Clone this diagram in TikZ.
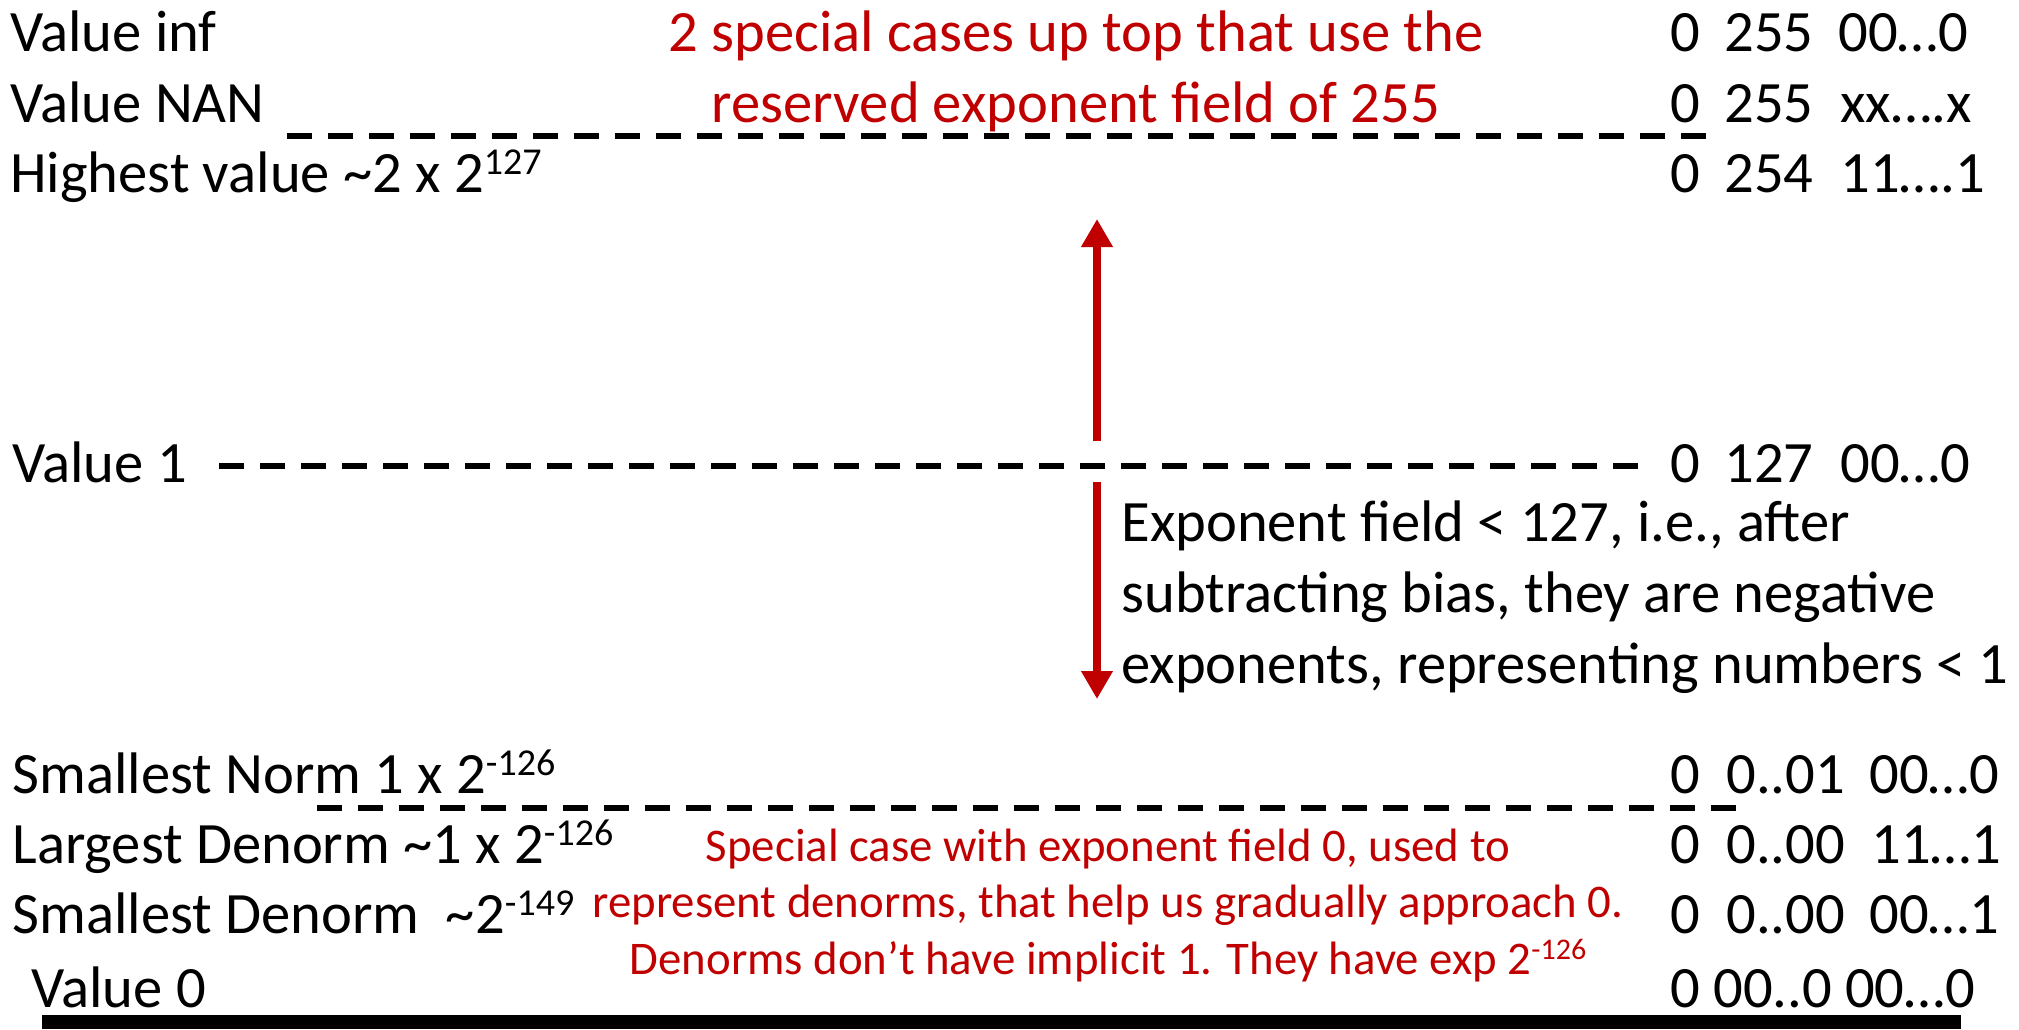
\documentclass[tikz,border=0pt]{standalone}
\usepackage{fontspec}
\setmainfont{Carlito}
\usetikzlibrary{positioning}
\usetikzlibrary{arrows.meta}
\definecolor{darkred}{RGB}{192,0,0}
\newcommand{\pw}[2][19]{\raisebox{0.3em}{\fontsize{#1}{#1}\selectfont #2}}

\begin{document}
\begin{tikzpicture}[
    x=0.5pt, y=-0.5pt,
    rowname/.style={
        anchor=base west,
        inner sep=0pt,
        font=\fontsize{29.3}{35.5}\selectfont
    },
    redtext/.style={
        anchor=base,
        inner sep=0pt,
        align=center,
        text=darkred,
        font=\fontsize{29.3}{35.5}\selectfont
    },
    boundary/.style={draw, line width=3pt, dash pattern=on 12.5pt off 8pt},
    spanarrow/.style={draw=darkred, line width=4pt, -{Triangle[length=14pt,width=15pt]}}
]
\useasboundingbox (0,0) rectangle (2019,1029);

% left column
\node[rowname] (inf) at (10,51) {Value inf};
\node[rowname] (nan) at (10,122) {Value NAN};
\node[rowname] (high) at (10,192) {Highest value \textasciitilde2 x 2\pw{127}};
\node[rowname] (one) at (12,482) {Value 1};
\node[rowname] (snorm) at (12,793) {Smallest Norm 1 x 2\pw{-126}};
\node[rowname] (ldenorm) at (12,863) {Largest Denorm \textasciitilde1 x 2\pw{-126}};
\node[rowname] (sdenorm) at (12,933) {Smallest Denorm\ \ \textasciitilde2\pw{-149}};
\node[rowname] (zero) at (31,1007) {Value 0};

% bit patterns
\node[rowname] (infs) at (1670,51) {0};
\node[rowname] (infe) at (1724,51) {255};
\node[rowname] (inff) at (1838,51) {00…0};
\node[rowname] (nans) at (1670,122) {0};
\node[rowname] (nane) at (1724,122) {255};
\node[rowname] (nanf) at (1840,122) {xx….x};
\node[rowname] (highs) at (1670,192) {0};
\node[rowname] (highe) at (1724,192) {254};
\node[rowname] (highf) at (1840,192) {11….1};
\node[rowname] (ones) at (1670,482) {0};
\node[rowname] (onee) at (1724,482) {127};
\node[rowname] (onef) at (1840,482) {00…0};
\node[rowname] (snorms) at (1670,793) {0};
\node[rowname] (snorme) at (1726,793) {0..01};
\node[rowname] (snormf) at (1869,793) {00…0};
\node[rowname] (ldenorms) at (1670,863) {0};
\node[rowname] (ldenorme) at (1726,863) {0..00};
\node[rowname] (ldenormf) at (1871,863) {11…1};
\node[rowname] (sdenorms) at (1670,933) {0};
\node[rowname] (sdenorme) at (1726,933) {0..00};
\node[rowname] (sdenormf) at (1869,933) {00…1};
\node[rowname] (zerobits) at (1670,1007) {0 00..0 00…0};

% notes (anchored on their last line)
\node[redtext] (topnote) at (1076,122) {2 special cases up top that use the\\reserved exponent field of 255};
\node[rowname, align=left] (expnote) at (1121,683) {Exponent field < 127, i.e., after\\subtracting bias, they are negative\\exponents, representing numbers < 1};
\node[redtext, font=\fontsize{23.4}{28.25}\selectfont] (denote) at (1108,974) {Special case with exponent field 0, used to\\represent denorms, that help us gradually approach 0.\\Denorms don’t have implicit 1. They have exp 2\pw[15]{-126}};

% boundaries
\coordinate (topl) at (287,136);
\coordinate (topr) at (1709,136);
\coordinate (midl) at (219,466);
\coordinate (midr) at (1645,466);
\coordinate (lowl) at (317,808);
\coordinate (lowr) at (1736,808);
\draw[boundary] (topl) -- (topr);
\draw[boundary] (midl) -- (midr);
\draw[boundary] (lowl) -- (lowr);

% ranges
\coordinate (upfoot) at (1097,441);
\coordinate (uptip) at (1097,219);
\coordinate (downfoot) at (1097,482);
\coordinate (downtip) at (1097,699);
\draw[spanarrow] (upfoot) -- (uptip);
\draw[spanarrow] (downfoot) -- (downtip);

% zero line
\coordinate (barl) at (42,1022);
\coordinate (barr) at (1961,1022);
\draw[line width=7pt] (barl) -- (barr);

\end{tikzpicture}
\end{document}
